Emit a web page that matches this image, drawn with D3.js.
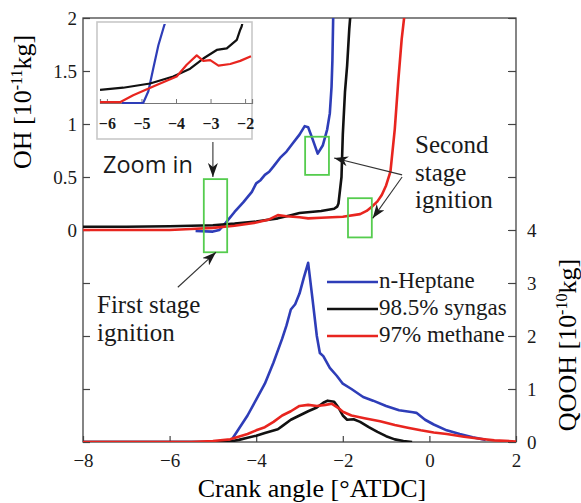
<!DOCTYPE html>
<html>
<head>
<meta charset="utf-8">
<script src="https://cdn.jsdelivr.net/npm/d3@7"></script>
<style>
  body { margin: 0; background: #fff; }
</style>
</head>
<body>
<div id="chart"></div>
<script>
// ---------------- data ----------------
const crankTicks = [-8, -6, -4, -2, 0, 2];
const ohTicks = [-2, -1.5, -1, -0.5, 0, 0.5, 1, 1.5, 2];
const qoohTicks = [0, 1, 2, 3, 4, 5, 6, 7, 8];
const insetTicks = [-6, -5, -4, -3, -2];
const seriesNames = ["n-Heptane", "98.5% syngas", "97% methane"];

// OH mass [1e-11 kg] vs crank angle
const ohHeptane = [[-5.4,-0.01],[-5.0,-0.015],[-4.85,0.0],[-4.7,0.07],[-4.5,0.17],[-4.3,0.26],[-4.2,0.31],[-4.1,0.36],
  [-4.0,0.44],[-3.9,0.47],[-3.8,0.52],[-3.7,0.55],[-3.6,0.6],[-3.45,0.68],[-3.3,0.74],[-3.15,0.82],[-3.0,0.9],
  [-2.88,0.98],[-2.8,0.97],[-2.7,0.86],[-2.58,0.72],[-2.46,0.8],[-2.36,0.95],[-2.3,1.1],[-2.26,1.35],[-2.24,1.6],[-2.22,2.05]];
const ohSyngas = [[-8,0.03],[-7,0.03],[-6,0.035],[-5.5,0.04],[-5,0.045],[-4.5,0.06],[-4,0.08],[-3.5,0.11],[-3.2,0.14],
  [-3.0,0.16],[-2.5,0.18],[-2.2,0.2],[-2.13,0.22],[-2.1,0.25],[-2.03,0.5],[-2.0,0.9],[-1.95,1.3],[-1.9,1.55],[-1.85,1.9],[-1.82,2.05]];
const ohMethane = [[-8,0],[-6,0],[-5.5,0.01],[-5,0.02],[-4.5,0.04],[-4,0.07],[-3.7,0.1],[-3.5,0.14],[-3.3,0.13],[-3.0,0.12],
  [-2.8,0.11],[-2.5,0.115],[-2,0.125],[-1.6,0.15],[-1.45,0.18],[-1.33,0.22],[-1.2,0.27],[-1.1,0.33],[-1.0,0.42],
  [-0.9,0.55],[-0.8,0.95],[-0.72,1.4],[-0.64,1.8],[-0.57,2.05]];

// QOOH mass [1e-10 kg] vs crank angle
const qoohHeptane = [[-8,0],[-4.6,0],[-4.4,0.25],[-4.2,0.5],[-4.0,0.8],[-3.8,1.1],[-3.6,1.5],[-3.4,1.95],[-3.3,2.2],
  [-3.2,2.5],[-3.1,2.6],[-3.0,2.8],[-2.9,3.1],[-2.8,3.38],[-2.7,2.7],[-2.6,2.0],[-2.53,1.68],[-2.45,1.62],[-2.3,1.4],
  [-2.14,1.25],[-2.0,1.1],[-1.8,1.0],[-1.53,0.85],[-1.3,0.78],[-1.0,0.68],[-0.7,0.6],[-0.38,0.56],[-0.3,0.55],
  [-0.1,0.42],[0.1,0.33],[0.4,0.22],[0.7,0.15],[1.0,0.09],[1.3,0.04]];
const qoohSyngas = [[-8,0],[-5.0,0],[-4.6,0.01],[-4.4,0.04],[-4.2,0.08],[-4.0,0.12],[-3.8,0.17],[-3.5,0.24],[-3.4,0.3],
  [-3.2,0.42],[-3.0,0.5],[-2.8,0.58],[-2.6,0.65],[-2.45,0.74],[-2.35,0.78],[-2.2,0.76],[-2.1,0.65],[-2.0,0.5],
  [-1.9,0.42],[-1.75,0.43],[-1.6,0.38],[-1.4,0.28],[-1.2,0.19],[-1.0,0.11],[-0.8,0.05],[-0.6,0.02],[-0.4,0.0]];
const qoohMethane = [[-8,0],[-5.5,0],[-5.0,0.02],[-4.6,0.05],[-4.2,0.15],[-4.0,0.22],[-3.8,0.28],[-3.6,0.38],[-3.4,0.5],
  [-3.2,0.58],[-3.0,0.68],[-2.8,0.7],[-2.6,0.68],[-2.4,0.7],[-2.25,0.72],[-2.1,0.64],[-2.0,0.57],[-1.8,0.5],[-1.5,0.45],
  [-1.14,0.39],[-0.8,0.32],[-0.5,0.27],[-0.2,0.22],[0.1,0.18],[0.4,0.15],[0.8,0.1],[1.17,0.06],[1.5,0.03],[2.0,0.01]];

// zoomed OH (inset, relative units)
const insetHeptane = [[-5.57,0],[-4.95,0],[-4.8,0.15],[-4.66,0.44],[-4.51,0.74],[-4.35,0.98],[-4.3,1.05]];
const insetSyngas = [[-6.2,0.167],[-5.53,0.196],[-4.75,0.25],[-4.08,0.34],[-3.59,0.44],[-3.21,0.57],[-2.82,0.68],
  [-2.53,0.70],[-2.24,0.81],[-2.14,0.94],[-2.1,0.98],[-2.08,1.02]];
const insetMethane = [[-6.2,0.01],[-5.62,0.01],[-5.24,0.1],[-4.56,0.23],[-3.98,0.34],[-3.69,0.49],[-3.4,0.61],
  [-3.21,0.54],[-3.01,0.55],[-2.77,0.48],[-2.43,0.5],[-2.14,0.54],[-1.83,0.6]];

// highlighted regions: [x0, x1, oh0, oh1]
const zoomBoxes = [[-5.21, -4.67, -0.21, 0.48], [-2.87, -2.32, 0.52, 0.88], [-1.88, -1.33, -0.07, 0.30]];
// arrows: [x0, oh0, x1, oh1]
const arrows = [[-5.0, 0.83, -5.0, 0.5], [-5.81, -0.54, -4.93, -0.21], [-0.63, 0.52, -2.2, 0.68], [-0.63, 0.50, -1.31, 0.11]];

const colors = ["#2e3db8", "#111111", "#e8251f"];
const SERIF = "'Liberation Serif', 'DejaVu Serif', serif";

// ---------------- layout ----------------
const W = 581, H = 503;
const pLeft = 83, pRight = 516, pTop = 18, pBottom = 442;

const svg = d3.select("#chart").append("svg")
  .attr("width", W)
  .attr("height", H);

const x = d3.scaleLinear().domain([-8, 2]).range([pLeft, pRight]);
const yOH = d3.scaleLinear().domain([-2, 2]).range([pBottom, pTop]);
const yQ = d3.scaleLinear().domain([0, 8]).range([pBottom, pTop]);

const defs = svg.append("defs");
defs.append("clipPath").attr("id", "plotClip")
  .append("rect").attr("x", pLeft).attr("y", pTop).attr("width", pRight - pLeft).attr("height", pBottom - pTop);
defs.append("marker")
  .attr("id", "arrow")
  .attr("viewBox", "0 0 14 10")
  .attr("refX", 14).attr("refY", 5)
  .attr("markerWidth", 14).attr("markerHeight", 10)
  .attr("markerUnits", "userSpaceOnUse")
  .attr("orient", "auto")
  .append("path")
  .attr("d", "M0,0 L14,5 L0,10 L4,5 Z")
  .attr("fill", "#1a1a1a");

// ---------------- axes ----------------
const styleAxis = (g, size) => {
  g.attr("font-family", null);
  g.select(".domain").remove();
  g.selectAll(".tick line").attr("stroke", "#444").attr("stroke-width", 1.2);
  g.selectAll(".tick text").attr("font-size", size).style("font-family", SERIF).attr("fill", "#1a1a1a");
};

svg.append("g")
  .attr("transform", `translate(0,${pBottom})`)
  .call(d3.axisBottom(x).tickValues(crankTicks).tickSize(-6).tickPadding(12).tickFormat(d3.format("d")))
  .call(g => styleAxis(g, 19));

svg.append("g")
  .attr("transform", `translate(${pLeft},0)`)
  .call(d3.axisLeft(yOH).tickValues(ohTicks).tickSize(-7).tickPadding(6)
    .tickFormat(d => d >= 0 ? d3.format("")(d) : ""))
  .call(g => styleAxis(g, 19));

svg.append("g")
  .attr("transform", `translate(${pRight},0)`)
  .call(d3.axisRight(yQ).tickValues(qoohTicks).tickSize(-8).tickPadding(11)
    .tickFormat(d => d <= 4 ? d : ""))
  .call(g => styleAxis(g, 19));

// frame
svg.append("rect")
  .attr("x", pLeft).attr("y", pTop)
  .attr("width", pRight - pLeft).attr("height", pBottom - pTop)
  .attr("fill", "none").attr("stroke", "#444").attr("stroke-width", 1.3);

// axis titles
svg.append("text")
  .attr("x", 312).attr("y", 497)
  .attr("text-anchor", "middle")
  .attr("font-size", 26)
  .style("font-family", SERIF)
  .text("Crank angle [°ATDC]");

const ohTitle = svg.append("text")
  .attr("transform", "translate(31,102) rotate(-90)")
  .attr("text-anchor", "middle")
  .attr("font-size", 26)
  .style("font-family", SERIF);
ohTitle.append("tspan").text("OH [10");
ohTitle.append("tspan").attr("dy", -9).attr("font-size", 16).text("-11");
ohTitle.append("tspan").attr("dy", 9).text("kg]");

const qTitle = svg.append("text")
  .attr("transform", "translate(576,345) rotate(-90)")
  .attr("text-anchor", "middle")
  .attr("font-size", 26)
  .style("font-family", SERIF);
qTitle.append("tspan").text("QOOH [10");
qTitle.append("tspan").attr("dy", -9).attr("font-size", 16).text("-10");
qTitle.append("tspan").attr("dy", 9).text("kg]");

// ---------------- curves ----------------
const plot = svg.append("g").attr("clip-path", "url(#plotClip)");
const ohLine = d3.line().x(d => x(d[0])).y(d => yOH(d[1]));
const qLine = d3.line().x(d => x(d[0])).y(d => yQ(d[1]));

[qoohHeptane, qoohSyngas, qoohMethane].forEach((s, i) => {
  plot.append("path").datum(s)
    .attr("d", qLine)
    .attr("fill", "none").attr("stroke", colors[i])
    .attr("stroke-width", 2.6).attr("stroke-linejoin", "round");
});
[ohHeptane, ohSyngas, ohMethane].forEach((s, i) => {
  plot.append("path").datum(s)
    .attr("d", ohLine)
    .attr("fill", "none").attr("stroke", colors[i])
    .attr("stroke-width", 2.6).attr("stroke-linejoin", "round");
});

// green boxes
plot.selectAll(".zbox")
  .data(zoomBoxes)
  .join("rect")
  .attr("class", "zbox")
  .attr("x", d => x(d[0]))
  .attr("y", d => yOH(d[3]))
  .attr("width", d => x(d[1]) - x(d[0]))
  .attr("height", d => yOH(d[2]) - yOH(d[3]))
  .attr("fill", "none").attr("stroke", "#55cc4e").attr("stroke-width", 1.8);

// ---------------- inset ----------------
const ix = d3.scaleLinear().domain([-6.2, -1.8]).range([100, 252]);
const iy = d3.scaleLinear().domain([0, 1]).range([103, 25]);
defs.append("clipPath").attr("id", "insetClip")
  .append("rect").attr("x", 100).attr("y", 24).attr("width", 152).attr("height", 80);

svg.append("rect")
  .attr("x", 97).attr("y", 22).attr("width", 155).attr("height", 117)
  .attr("fill", "#fff").attr("stroke", "#c8c8c8").attr("stroke-width", 1.6);

svg.append("g")
  .attr("transform", "translate(0,103)")
  .call(d3.axisBottom(ix).tickValues(insetTicks).tickSize(-4).tickPadding(15).tickFormat(d3.format("d")))
  .call(g => {
    g.attr("font-family", null);
    g.select(".domain").attr("stroke", "#777").attr("stroke-width", 1.2);
    g.selectAll(".tick line").attr("stroke", "#777");
    g.selectAll(".tick text").attr("font-size", 16).attr("font-weight", "bold")
      .style("font-family", SERIF).attr("fill", "#1a1a1a");
  });

const insetG = svg.append("g").attr("clip-path", "url(#insetClip)");
const iLine = d3.line().x(d => ix(d[0])).y(d => iy(d[1]));
[insetHeptane, insetSyngas, insetMethane].forEach((s, i) => {
  insetG.append("path").datum(s)
    .attr("d", iLine)
    .attr("fill", "none").attr("stroke", colors[i])
    .attr("stroke-width", 2.2).attr("stroke-linejoin", "round");
});

// ---------------- annotations ----------------
svg.selectAll(".arrow")
  .data(arrows)
  .join("line")
  .attr("class", "arrow")
  .attr("x1", d => x(d[0])).attr("y1", d => yOH(d[1]))
  .attr("x2", d => x(d[2])).attr("y2", d => yOH(d[3]))
  .attr("stroke", "#333").attr("stroke-width", 1.1)
  .attr("marker-end", "url(#arrow)");

svg.append("text")
  .attr("x", 103).attr("y", 173)
  .attr("font-size", 23.5)
  .attr("fill", "#1a1a1a")
  .style("font-family", "'Open Sans', 'Liberation Sans', sans-serif")
  .text("Zoom in");

const firstStage = svg.append("text").attr("font-size", 25).attr("fill", "#1a1a1a").style("font-family", SERIF);
firstStage.append("tspan").attr("x", 97).attr("y", 313).text("First stage");
firstStage.append("tspan").attr("x", 97).attr("y", 341).text("ignition");

const secondStage = svg.append("text").attr("font-size", 25).attr("fill", "#1a1a1a").style("font-family", SERIF);
["Second", "stage", "ignition"].forEach((t, i) => {
  secondStage.append("tspan").attr("x", 415).attr("y", 153 + i * 27.5).text(t);
});

// ---------------- legend ----------------
const legend = svg.append("g").attr("transform", "translate(327,282)");
seriesNames.forEach((name, i) => {
  const row = legend.append("g").attr("transform", `translate(0,${i * 27})`);
  row.append("line")
    .attr("x1", 0).attr("x2", 51)
    .attr("stroke", colors[i]).attr("stroke-width", 2.6);
  row.append("text")
    .attr("x", 52).attr("y", 6)
    .attr("font-size", 23)
    .attr("fill", "#1a1a1a")
    .style("font-family", SERIF)
    .text(name);
});
</script>
</body>
</html>
